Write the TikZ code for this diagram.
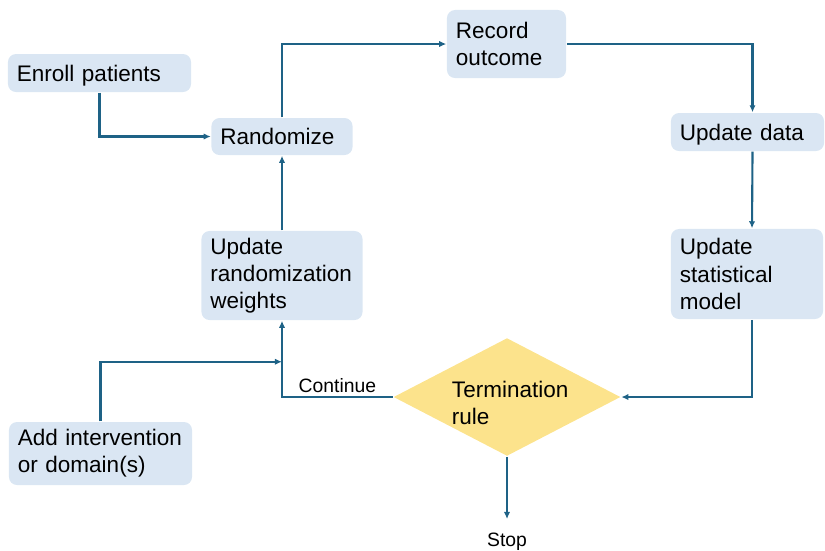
\documentclass[tikz,border=0pt]{standalone}
\usepackage{fontspec}
\setmainfont{Liberation Sans}
\usetikzlibrary{arrows.meta,shapes.geometric,calc}

\definecolor{boxfill}{RGB}{218,230,243}
\definecolor{flowline}{RGB}{30,98,134}
\definecolor{rulefill}{RGB}{252,227,140}

\begin{document}
\begin{tikzpicture}[
		x=0.01cm, y=-0.01cm,
		>={Latex[length=2pt,width=1.8pt]},
		every node/.style={
			font=\fontsize{6.4}{7.7}\selectfont,
			text=black
		},
		stepbox/.style 2 args={
			fill=boxfill,
			rounded corners=2.3pt,
			inner xsep=0.09cm,
			inner ysep=0pt,
			align=left,
			text width=#1,
			minimum height=#2
		},
		small/.style={font=\fontsize{5.5}{6.6}\selectfont},
		flow/.style={->,flowline,line width=0.6pt,line join=miter}
		]
		
		\useasboundingbox (0,0) rectangle (825,550);
		
		%--------------------------------------------------
		% Steps
		%--------------------------------------------------
		
		\node[stepbox={1.65cm}{0.38cm}, text depth=0pt] (enroll) at (99.5,73) {Enroll patients};
		\node[stepbox={1.23cm}{0.37cm}] (rand) at (282,136.5) {Randomize};
		\node[stepbox={1.01cm}{0.68cm}] (record) at (506.5,44) {Record\\outcome};
		\node[stepbox={1.35cm}{0.38cm}, text depth=0pt] (data) at (747.5,132) {Update data};
		\node[stepbox={1.34cm}{0.90cm}] (stats) at (747,274) {Update\\statistical\\model};
		\node[stepbox={1.43cm}{0.89cm}] (weights) at (282,275.5) {Update\\randomization\\weights};
		\node[stepbox={1.65cm}{0.63cm}] (add) at (100.5,453.5) {Add intervention\\or domain(s)};
		
		% decision: the shape and its two-line text
		\node[diamond, fill=rulefill, inner sep=0pt, aspect=1.92,
			minimum width=2.27cm, minimum height=1.18cm] (term) at (507,397) {};
		\node[text width=1.22cm, align=left, inner sep=0pt] (termtext) at (513,403) {Termination\\rule};
		
		\node[small, inner sep=0pt, anchor=north] (stop) at (507,532) {Stop};
		
		%--------------------------------------------------
		% Connectors
		%--------------------------------------------------
		
		\draw[flow] (enroll.south) |- (rand.west);
		\draw[flow] (rand.north) |- (record.west);
		\draw[flow] (record.east) -| ([xshift=0.05cm]data.north);
		\draw[flow] ([xshift=0.05cm]data.south) -- ([xshift=0.05cm]stats.north);
		\draw[flow] ([xshift=0.05cm]stats.south) |- (term.east);
		\draw[flow] (term.west) -| node[pos=0.25, above, small, inner sep=1pt]{Continue} (weights.south);
		\draw[flow] (weights.north) -- (rand.south);
		
		\coordinate (join) at ($(weights.south)+(0,41)$);
		\draw[flow] (add.north) |- (join);
		
		\draw[flow] (term.south) -- ([yshift=0.13cm]stop.north);
		
	\end{tikzpicture}
\end{document}
